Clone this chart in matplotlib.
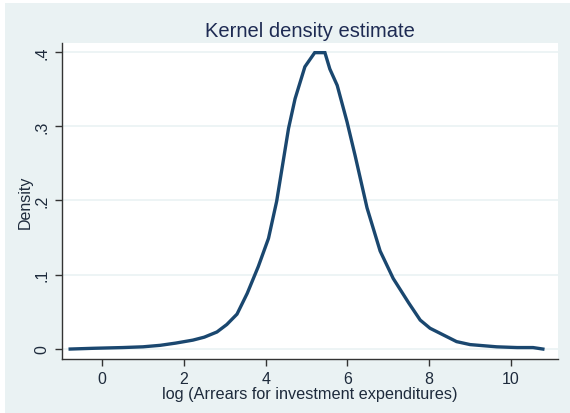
import matplotlib
matplotlib.use("Agg")
import matplotlib.pyplot as plt
from matplotlib.patches import Rectangle

# kernel density estimate, evaluated on a grid of log arrears
grid = [-0.78, -0.22, 0.5, 1.0, 1.42, 1.8, 2.22, 2.5, 2.81, 3.05, 3.3, 3.55,
        3.82, 4.07, 4.27, 4.56, 4.72, 4.96, 5.2, 5.45, 5.57, 5.75, 5.99,
        6.19, 6.48, 6.8, 7.12, 7.5, 7.78, 8.02, 8.67, 9.0, 9.65, 10.15,
        10.54, 10.78]
density = [0.0, 0.001, 0.002, 0.003, 0.005, 0.008, 0.012, 0.016, 0.023,
           0.033, 0.047, 0.075, 0.111, 0.149, 0.199, 0.297, 0.337, 0.38,
           0.399, 0.399, 0.377, 0.355, 0.306, 0.26, 0.19, 0.132, 0.095,
           0.062, 0.039, 0.028, 0.010, 0.006, 0.003, 0.002, 0.002, 0.0]

xticks = [0, 2, 4, 6, 8, 10]
yticks = [0, 0.1, 0.2, 0.3, 0.4]
ytick_labels = ["0", ".1", ".2", ".3", ".4"]

bg = "#eaf2f3"
navy = "#1a476f"
plt.rcParams["font.family"] = ["Liberation Sans", "DejaVu Sans"]

fig = plt.figure(figsize=(5.7, 4.14), dpi=100)
fig.patch.set_facecolor("white")
fig.add_artist(Rectangle((5 / 570, 0), 1, 1 - 4 / 414, transform=fig.transFigure,
                         facecolor=bg, edgecolor="none", zorder=-10))

ax = fig.add_axes([62 / 570, 54 / 414, 496 / 570, 316 / 414])
ax.set_facecolor("white")
ax.plot(grid, density, color=navy, lw=2.4, solid_joinstyle="miter")

ax.set_xlim(-0.98, 11.15)
ax.set_ylim(-0.0134, 0.412)
ax.set_xticks(xticks)
ax.set_yticks(yticks)
ax.set_yticklabels(ytick_labels, rotation=90, va="center")
ax.grid(axis="y", color=bg, lw=1.2)
ax.set_axisbelow(True)

for s in ["top", "right"]:
    ax.spines[s].set_visible(False)
for s in ["left", "bottom"]:
    ax.spines[s].set_color("#333333")
    ax.spines[s].set_linewidth(1.0)
ax.tick_params(direction="out", length=5, width=1, color="#333333",
               labelsize=11.5, labelcolor="#1e2b3c", pad=4)

ax.set_xlabel("log (Arrears for investment expenditures)", fontsize=11.7,
              color="#1e2b3c", labelpad=0)
ax.set_ylabel("Density", fontsize=11.5, color="#1e2b3c", labelpad=1)
ax.set_title("Kernel density estimate", fontsize=14.5, color="#1e2b53", pad=5)

fig.savefig("out.png", dpi=100, facecolor=fig.get_facecolor())
